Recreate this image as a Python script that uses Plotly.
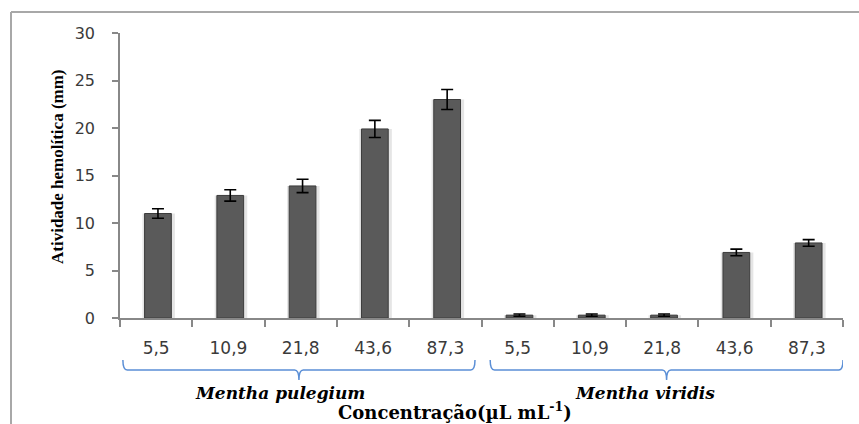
import plotly.graph_objects as go

# ---- data ----
groups = ["Mentha pulegium", "Mentha viridis"]
concentrations = ["5,5", "10,9", "21,8", "43,6", "87,3"]
pulegium_values = [11.0, 12.9, 13.9, 19.9, 23.0]
pulegium_errors = [0.5, 0.6, 0.7, 0.9, 1.05]
viridis_values = [0.3, 0.3, 0.3, 6.9, 7.9]
viridis_errors = [0.12, 0.12, 0.12, 0.35, 0.35]
y_ticks = [0, 5, 10, 15, 20, 25, 30]

values = pulegium_values + viridis_values
errors = pulegium_errors + viridis_errors
tick_labels = concentrations + concentrations
xpos = list(range(len(values)))

W, H = 859, 424
L, R, T, B = 120, 16, 33, 106
plot_w = W - L - R
plot_h = H - T - B

def py(pix):  # pixel y -> paper y
    return (H - B - pix) / plot_h

def px(pix):  # pixel x -> paper x
    return (pix - L) / plot_w

fig = go.Figure()

# soft shadow behind bars
fig.add_trace(go.Bar(
    x=xpos, y=values, width=0.45, offset=-0.19,
    marker=dict(color="rgba(0,0,0,0.10)", line=dict(width=0)),
    hoverinfo="skip", showlegend=False,
))
fig.add_trace(go.Bar(
    x=xpos, y=values, width=0.37, offset=-0.16,
    marker=dict(color="#5a5a5a", line=dict(color="#3c3c3c", width=1)),
    error_y=dict(type="data", array=errors, color="#000000", thickness=1.6, width=6),
    showlegend=False,
))

serif_wide = "DejaVu Serif"
fig.update_layout(
    width=W, height=H,
    margin=dict(l=L, r=R, t=T, b=B),
    plot_bgcolor="white", paper_bgcolor="white",
    barmode="overlay",
    xaxis=dict(
        range=[-0.5, len(values) - 0.5],
        tickvals=xpos, ticktext=tick_labels, ticks="",
        showline=True, linecolor="#888888", linewidth=1.5,
        showgrid=False, zeroline=False,
        tickfont=dict(family="DejaVu Sans", size=17, color="#3a3a3a"),
        ticklabelstandoff=14,
        minor=dict(tickmode="array", tickvals=[i - 0.5 for i in range(len(values) + 1)],
                   ticks="outside", ticklen=7, tickwidth=1.5, tickcolor="#888888"),
    ),
    yaxis=dict(
        range=[0, 30], tickvals=y_ticks,
        ticks="outside", ticklen=6, tickwidth=1.5, tickcolor="#888888",
        showline=True, linecolor="#888888", linewidth=1.5,
        showgrid=False, zeroline=False,
        tickfont=dict(family="DejaVu Sans", size=16, color="#3a3a3a"),
        ticklabelstandoff=14,
    ),
)

# frame (left and top edges)
fig.add_shape(type="line", xref="paper", yref="paper", x0=px(11), x1=px(870), y0=py(12), y1=py(12),
              line=dict(color="#a8a8a8", width=2))
fig.add_shape(type="line", xref="paper", yref="paper", x0=px(11), x1=px(11), y0=py(430), y1=py(12),
              line=dict(color="#a8a8a8", width=2))

# braces under each group
brace_color = "#5b8fd6"
y_top, y_mid, y_tip = py(360), py(370), py(380)
label_x_pix = [280, 645]
for gi, name in enumerate(groups):
    n = len(concentrations)
    x0 = gi * n - 0.5 + (0.04 if gi == 0 else 0.12)
    x1 = gi * n + n - 0.5 - (0.09 if gi == 0 else 0.0)
    tip = (x0 + x1) / 2
    r = 0.06
    path = (f"M {x0},{y_top} Q {x0},{y_mid} {x0 + r},{y_mid} "
            f"L {tip - r},{y_mid} Q {tip},{y_mid} {tip},{y_tip} "
            f"Q {tip},{y_mid} {tip + r},{y_mid} "
            f"L {x1 - r},{y_mid} Q {x1},{y_mid} {x1},{y_top}")
    fig.add_shape(type="path", xref="x", yref="paper", path=path,
                  line=dict(color=brace_color, width=1.5))
    fig.add_annotation(x=px(label_x_pix[gi]), y=py(393), xref="paper", yref="paper",
                       text=f"<b><i>{name}</i></b>",
                       showarrow=False, font=dict(family=serif_wide, size=17, color="black"),
                       xanchor="center", yanchor="middle")

fig.add_annotation(x=px(455), y=py(411), xref="paper", yref="paper",
                   text="<b>Concentração(µL mL<sup>-1</sup>)</b>", showarrow=False,
                   font=dict(family=serif_wide, size=18, color="black"), xanchor="center", yanchor="middle")
fig.add_annotation(x=px(57), y=py(167), xref="paper", yref="paper",
                   text="<b>Atividade hemolítica (mm)</b>", textangle=-90, showarrow=False,
                   font=dict(family="Liberation Serif", size=17, color="black"),
                   xanchor="center", yanchor="middle")

fig.write_html("out.html", config={"displayModeBar": False},
               post_script="document.body.style.margin='0';document.body.style.overflow='hidden';")
